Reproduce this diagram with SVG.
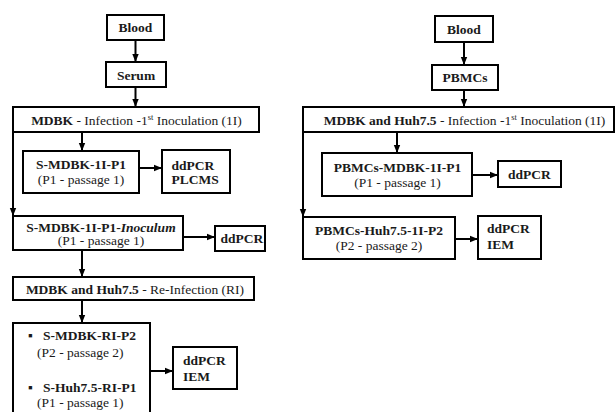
<svg xmlns="http://www.w3.org/2000/svg" width="616" height="412" viewBox="0 0 616 412">
<defs>
<marker id="ah" markerUnits="userSpaceOnUse" markerWidth="8" markerHeight="8" viewBox="0 0 8 8" refX="8" refY="4" orient="auto">
<path d="M0,0.8 L8,4 L0,7.2 Z" fill="#000"/>
</marker>
<style>
.box{fill:#fff;stroke:#000;stroke-width:2}
.con{fill:none;stroke:#000;stroke-width:2;marker-end:url(#ah)}
text{font-family:"Liberation Serif",serif;font-size:13.5px;fill:#1a1a1a}
.b{font-weight:bold}
.c{text-anchor:middle}
.sup{font-size:8.5px}
</style>
</defs>
<rect width="616" height="412" fill="#fff"/>

<g id="connectors">
<path class="con" d="M135.5,40 V62"/>
<path class="con" d="M135.5,87 V107"/>
<path class="con" d="M13,132 V216"/>
<path class="con" d="M82,132 V151"/>
<path class="con" d="M139,168 H162"/>
<path class="con" d="M183,237 H215"/>
<path class="con" d="M82,250 V277"/>
<path class="con" d="M82,300 V323"/>
<path class="con" d="M150,371 H173"/>
<path class="con" d="M464,42 V65"/>
<path class="con" d="M464,90 V107"/>
<path class="con" d="M303,132 V217"/>
<path class="con" d="M397,132 V153"/>
<path class="con" d="M472,175 H498"/>
<path class="con" d="M455,239 H478"/>
</g>

<g id="blood-left"><rect class="box" x="107" y="15" width="57" height="25"/><text class="b c" x="135.5" y="32">Blood</text></g>
<g id="serum"><rect class="box" x="106" y="62" width="60" height="25"/><text class="b c" x="136" y="80">Serum</text></g>
<g id="mdbk-1i"><rect class="box" x="13" y="107" width="246" height="25"/><text class="c" x="136.5" y="125"><tspan class="b">MDBK</tspan> - Infection -1<tspan class="sup" dy="-5">st</tspan><tspan dy="5"> Inoculation (1I)</tspan></text></g>
<g id="s-mdbk-1i-p1"><rect class="box" x="23" y="151" width="116" height="42"/><text class="b c" x="81" y="169">S-MDBK-1I-P1</text><text class="c" x="81" y="184">(P1 - passage 1)</text></g>
<g id="ddpcr-plcms"><rect class="box" x="162" y="150" width="68" height="43"/><text class="b" x="171.5" y="170">ddPCR</text><text class="b" x="171.5" y="184">PLCMS</text></g>
<g id="inoculum"><rect class="box" x="13" y="216" width="170" height="34"/><text class="b c" x="101" y="232">S-MDBK-1I-P1-<tspan font-style="italic">Inoculum</tspan></text><text class="c" x="101" y="245">(P1 - passage 1)</text></g>
<g id="ddpcr-inoc"><rect class="box" x="215" y="226" width="50" height="25"/><text class="b" x="220.5" y="243">ddPCR</text></g>
<g id="mdbk-huh-ri"><rect class="box" x="13" y="277" width="241" height="23"/><text class="c" x="135" y="294"><tspan class="b">MDBK and Huh7.5</tspan> - Re-Infection (RI)</text></g>
<g id="ri-results"><rect class="box" x="13" y="323" width="137" height="100"/>
<text class="b" x="28" y="340">▪ <tspan x="43">S-MDBK-RI-P2</tspan></text>
<text x="37" y="357">(P2 - passage 2)</text>
<text class="b" x="28" y="392">▪ <tspan x="43">S-Huh7.5-RI-P1</tspan></text>
<text x="37" y="407">(P1 - passage 1)</text></g>
<g id="ddpcr-iem-left"><rect class="box" x="173" y="347" width="64" height="42"/><text class="b" x="183" y="365">ddPCR</text><text class="b" x="183" y="381">IEM</text></g>

<g id="blood-right"><rect class="box" x="435" y="16" width="58" height="26"/><text class="b c" x="464" y="34">Blood</text></g>
<g id="pbmcs"><rect class="box" x="432" y="65" width="66" height="25"/><text class="b c" x="465" y="82">PBMCs</text></g>
<g id="mdbk-huh-1i"><rect class="box" x="303" y="107" width="311" height="25"/><text class="c" x="464.5" y="125"><tspan class="b">MDBK and Huh7.5</tspan> - Infection -1<tspan class="sup" dy="-5">st</tspan><tspan dy="5"> Inoculation (1I)</tspan></text></g>
<g id="pbmcs-mdbk"><rect class="box" x="322" y="153" width="150" height="43"/><text class="b c" x="397.5" y="172">PBMCs-MDBK-1I-P1</text><text class="c" x="397.5" y="187">(P1 - passage 1)</text></g>
<g id="ddpcr-right"><rect class="box" x="498" y="161" width="63" height="26"/><text class="b" x="508" y="179">ddPCR</text></g>
<g id="pbmcs-huh"><rect class="box" x="303" y="217" width="152" height="42"/><text class="b c" x="379" y="235">PBMCs-Huh7.5-1I-P2</text><text class="c" x="379" y="250">(P2 - passage 2)</text></g>
<g id="ddpcr-iem-right"><rect class="box" x="478" y="216" width="63" height="43"/><text class="b" x="487" y="233">ddPCR</text><text class="b" x="487" y="249">IEM</text></g>
</svg>
